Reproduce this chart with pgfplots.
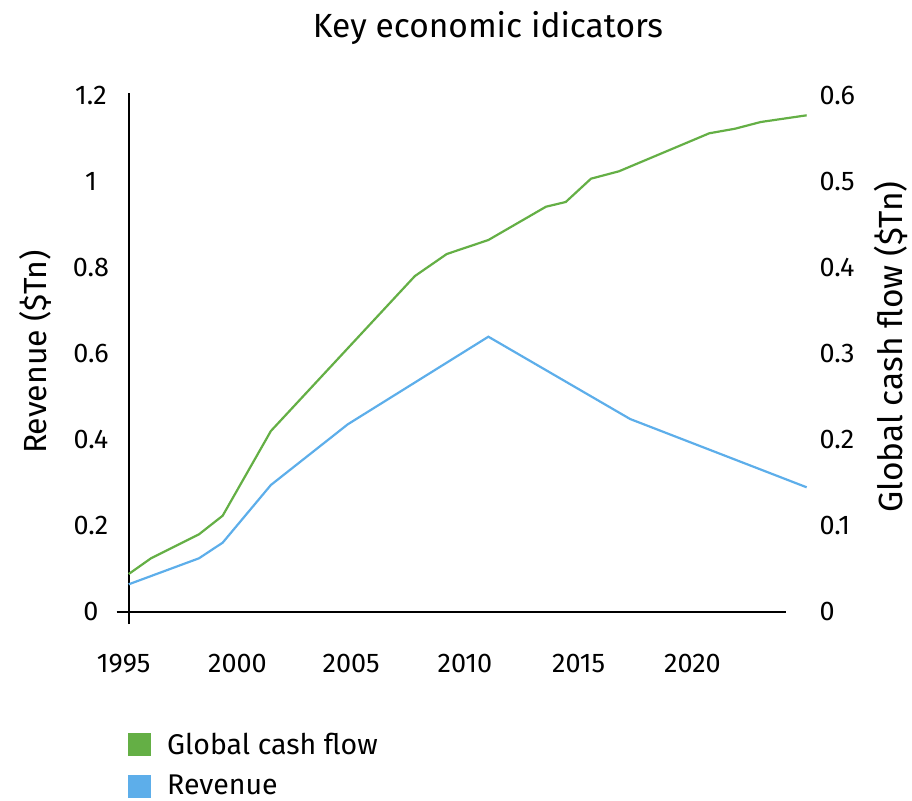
\documentclass[border=0pt]{standalone}
\usepackage{fontspec}
\setmainfont{Fira Sans}
\usepackage{pgfplots}
\pgfplotsset{compat=1.18}
\definecolor{cashgreen}{HTML}{64AF45}
\definecolor{revblue}{HTML}{5DAEEA}

\begin{document}
\begin{tikzpicture}
\path (0pt,0pt) rectangle (912pt,800pt);

% Left axis: revenue
\begin{axis}[
  at={(128.7pt,188.3pt)}, anchor=south west, scale only axis,
  width=682.5pt, height=516pt,
  xmin=1995, xmax=2025, ymin=0, ymax=1.2,
  clip=false,
  axis line style={draw=none},
  tick style={draw=none},
  xtick={1995,2000,2005,2010,2015,2020},
  ytick={0,0.2,0.4,0.6,0.8,1,1.2},
  /pgf/number format/assume math mode=true,
  /pgf/number format/1000 sep={},
  tick label style={font=\fontsize{27}{32}\selectfont},
  yticklabel style={anchor=center, xshift=-37.7pt},
  xticklabel style={anchor=center, yshift=-52pt, xshift=-5pt},
]
\draw[line width=2pt] (axis cs:1995,-0.029) -- (axis cs:1995,1.207);
\draw[line width=2pt] (axis cs:1994.47,0) -- (axis cs:2023.88,0);
\addplot[revblue, line width=2.2pt] coordinates {
  (1995.00,0.0637) (1998.09,0.1242) (1999.13,0.1605) (2001.25,0.2947)
  (2004.63,0.4358) (2010.81,0.6395) (2017.04,0.4481) (2024.80,0.2893)
};
\end{axis}

% Right axis: global cash flow
\begin{axis}[
  at={(128.7pt,188.3pt)}, anchor=south west, scale only axis,
  width=682.5pt, height=516pt,
  xmin=1995, xmax=2025, ymin=0, ymax=0.6,
  clip=false,
  axis line style={draw=none},
  tick style={draw=none},
  xtick=\empty,
  ytick={0,0.1,0.2,0.3,0.4,0.5,0.6},
  ytick pos=right,
  /pgf/number format/assume math mode=true,
  tick label style={font=\fontsize{27}{32}\selectfont},
  yticklabel style={anchor=west, xshift=5pt},
]
\addplot[cashgreen, line width=2.2pt] coordinates {
  (1995.00,0.0438) (1995.98,0.0621) (1998.09,0.0900) (1999.13,0.1116)
  (2001.25,0.2101) (2007.58,0.3903) (2008.98,0.4159) (2010.81,0.4322)
  (2013.34,0.4709) (2014.21,0.4764) (2015.32,0.5035) (2016.55,0.5121)
  (2020.52,0.5563) (2021.65,0.5616) (2022.78,0.5694) (2024.80,0.5772)
};
\end{axis}

% Titles and axis labels
\node[font=\fontsize{33.5}{40}\selectfont] at (488pt,772pt) {Key economic idicators};
\node[font=\fontsize{32}{38}\selectfont, rotate=90] at (35pt,448pt) {Revenue (\$Tn)};
\node[font=\fontsize{33.5}{40}\selectfont, rotate=90] at (891pt,453pt) {Global cash flow (\$Tn)};

% Legend
\fill[cashgreen] (128pt,44pt) rectangle (151pt,67pt);
\node[anchor=west, font=\fontsize{28.5}{34}\selectfont, inner sep=0pt] at (167pt,56pt) {Global cash flow};
\fill[revblue] (128pt,2pt) rectangle (151pt,25pt);
\node[anchor=west, font=\fontsize{28.5}{34}\selectfont, inner sep=0pt] at (167pt,15pt) {Revenue};
\end{tikzpicture}
\end{document}
